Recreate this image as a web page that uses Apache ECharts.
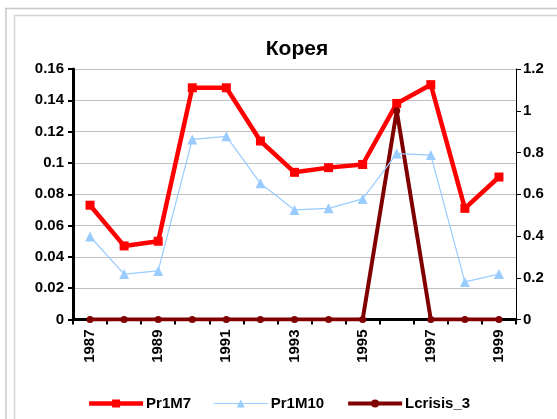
<!DOCTYPE html>
<html>
<head>
<meta charset="utf-8">
<script src="https://cdn.jsdelivr.net/npm/echarts@6/dist/echarts.min.js"></script>
<style>
  html, body { margin: 0; padding: 0; background: #fff; }
  #chart { width: 557px; height: 419px; }
</style>
</head>
<body>
<div id="chart"></div>
<script>
// Years on the category axis
var years = ['1987', '1988', '1989', '1990', '1991', '1992', '1993',
             '1994', '1995', '1996', '1997', '1998', '1999'];

// Series values (left axis for Pr1M7 / Pr1M10, right axis for Lcrisis_3)
var pr1m7 = [0.073, 0.047, 0.050, 0.148, 0.148, 0.114, 0.094,
             0.097, 0.099, 0.138, 0.150, 0.071, 0.091];
var pr1m10 = [0.053, 0.029, 0.031, 0.115, 0.117, 0.087, 0.070,
              0.071, 0.077, 0.106, 0.105, 0.024, 0.029];
var lcrisis3 = [0, 0, 0, 0, 0, 0, 0, 0, 0, 1, 0, 0, 0];

// Axis ranges
var leftMin = 0, leftMax = 0.16, leftStep = 0.02;
var rightMin = 0, rightMax = 1.2, rightStep = 0.2;

var chart = echarts.init(document.getElementById('chart'), null, { renderer: 'canvas' });

var labelFont = { fontFamily: 'Liberation Sans, Arial, sans-serif', fontWeight: 'bold', color: '#000' };

chart.setOption({
  backgroundColor: '#fff',
  animation: false,
  title: {
    text: 'Корея',
    left: 292,
    textAlign: 'center',
    top: 34,
    textStyle: { fontFamily: 'Liberation Sans, Arial, sans-serif', fontWeight: 'bold', fontSize: 21, color: '#000' }
  },
  grid: { left: 73, right: 41, top: 69, bottom: 99.5, containLabel: false },
  legend: {
    bottom: 3,
    left: 'center',
    itemWidth: 54,
    itemHeight: 10,
    itemGap: 22,
    data: [
      { name: 'Pr1M7', lineStyle: { width: 4.5 } },
      { name: 'Pr1M10', lineStyle: { width: 1.2 } },
      { name: 'Lcrisis_3', lineStyle: { width: 4 } }
    ],
    textStyle: Object.assign({ fontSize: 15, padding: [0, 0, 0, -2] }, labelFont)
  },
  xAxis: {
    type: 'category',
    data: years,
    boundaryGap: true,
    axisLine: { lineStyle: { color: '#000', width: 3 } },
    axisTick: { show: true, alignWithLabel: false, interval: 0, length: 5, lineStyle: { color: '#000', width: 2 } },
    axisLabel: Object.assign({ rotate: 90, interval: 1, fontSize: 15, margin: 10 }, labelFont),
    splitLine: { show: false }
  },
  yAxis: [
    {
      type: 'value',
      min: leftMin, max: leftMax, interval: leftStep,
      axisLine: { show: true, lineStyle: { color: '#000', width: 3 } },
      axisTick: { show: true, length: 5, lineStyle: { color: '#000', width: 2 } },
      axisLabel: Object.assign({ fontSize: 15, margin: 9 }, labelFont),
      splitLine: { show: true, lineStyle: { color: '#C0C0C0', width: 1 } }
    },
    {
      type: 'value',
      position: 'right',
      min: rightMin, max: rightMax, interval: rightStep,
      axisLine: { show: true, lineStyle: { color: '#000', width: 1 } },
      axisTick: { show: true, length: 5, lineStyle: { color: '#000', width: 1 } },
      axisLabel: Object.assign({ fontSize: 15, margin: 7 }, labelFont),
      splitLine: { show: false }
    }
  ],
  series: [
    {
      name: 'Pr1M7',
      type: 'line',
      yAxisIndex: 0,
      data: pr1m7,
      z: 2,
      symbol: 'rect',
      symbolSize: 9,
      lineStyle: { color: '#FF0000', width: 4.5 },
      itemStyle: { color: '#FF0000' }
    },
    {
      name: 'Pr1M10',
      type: 'line',
      yAxisIndex: 0,
      data: pr1m10,
      z: 4,
      symbol: 'triangle',
      symbolSize: 10,
      lineStyle: { color: '#99CCFF', width: 1.2 },
      itemStyle: { color: '#99CCFF' }
    },
    {
      name: 'Lcrisis_3',
      type: 'line',
      yAxisIndex: 1,
      data: lcrisis3,
      z: 3,
      symbol: 'circle',
      symbolSize: 7,
      lineStyle: { color: '#800000', width: 4 },
      itemStyle: { color: '#800000' }
    }
  ],
  graphic: [
    { type: 'line', shape: { x1: 5, y1: 8.5, x2: 557, y2: 8.5 }, style: { stroke: '#C8C8C8', lineWidth: 1.5 } },
    { type: 'line', shape: { x1: 6, y1: 8, x2: 6, y2: 419 }, style: { stroke: '#C8C8C8', lineWidth: 1.5 } },
    { type: 'line', shape: { x1: 14, y1: 15.5, x2: 557, y2: 15.5 }, style: { stroke: '#D4D4D4', lineWidth: 1.5 } },
    { type: 'line', shape: { x1: 14.5, y1: 15, x2: 14.5, y2: 419 }, style: { stroke: '#D4D4D4', lineWidth: 1.5 } }
  ]
});
</script>
</body>
</html>
